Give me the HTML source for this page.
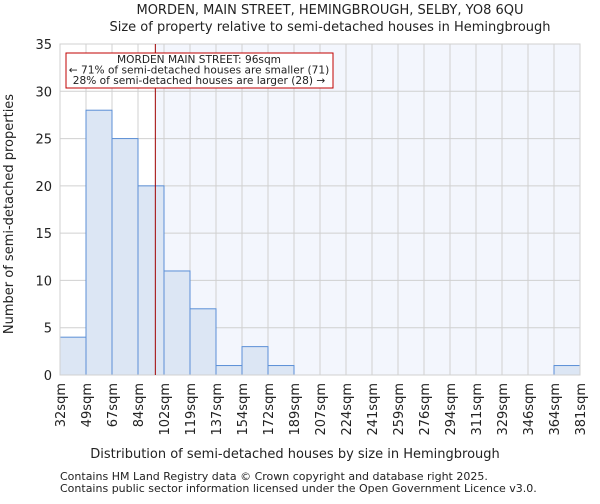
<!DOCTYPE html>
<html><head><meta charset="utf-8"><style>
body{margin:0;background:#fff;font-family:"DejaVu Sans","Liberation Sans",sans-serif;}
svg text{font-family:"DejaVu Sans","Liberation Sans",sans-serif;fill:#222;}
</style></head><body>
<svg id="chart" width="600" height="500">
<text x="330" y="14" font-size="13" text-anchor="middle">MORDEN, MAIN STREET, HEMINGBROUGH, SELBY, YO8 6QU</text>
<text x="330" y="31" font-size="13" text-anchor="middle">Size of property relative to semi-detached houses in Hemingbrough</text>
<g id="plot"></g>
<text x="295" y="458" font-size="13" text-anchor="middle">Distribution of semi-detached houses by size in Hemingbrough</text>
<text transform="translate(13,214) rotate(-90)" font-size="13" text-anchor="middle">Number of semi-detached properties</text>
<text x="60" y="480" font-size="11">Contains HM Land Registry data © Crown copyright and database right 2025.</text>
<text x="60" y="492" font-size="11">Contains public sector information licensed under the Open Government Licence v3.0.</text>
</svg>
<script>
const binLabels=["32sqm","49sqm","67sqm","84sqm","102sqm","119sqm","137sqm","154sqm","172sqm","189sqm","207sqm","224sqm","241sqm","259sqm","276sqm","294sqm","311sqm","329sqm","346sqm","364sqm","381sqm"];
const binEdges=[32,49,67,84,102,119,137,154,172,189,207,224,241,259,276,294,311,329,346,364,381];
const counts=[4,28,25,20,11,7,1,3,1,0,0,0,0,0,0,0,0,0,0,1];
const yTicks=[0,5,10,15,20,25,30,35];
const propertySize=96;
const NS="http://www.w3.org/2000/svg";
const X0=60,X1=580,Y0=375,Y1=44,YMAX=35;
const nb=counts.length,bw=(X1-X0)/nb;
function xi(i){return X0+i*bw;}
function xv(v){for(let i=0;i<binEdges.length-1;i++){if(v>=binEdges[i]&&v<=binEdges[i+1])return xi(i)+(v-binEdges[i])/(binEdges[i+1]-binEdges[i])*bw;}return X1;}
function y(v){return Y0-v/YMAX*(Y0-Y1);}
const g=document.getElementById('plot');
function mk(t,a){const e=document.createElementNS(NS,t);for(const k in a)e.setAttribute(k,a[k]);g.appendChild(e);return e;}
const px=xv(propertySize);
let r=mk('rect',{x:px,y:Y1,width:X1-px,height:Y0-Y1,fill:'#f3f6fd'});


yTicks.forEach(t=>{const l=mk('line',{x1:X0,x2:X1,y1:y(t),y2:y(t),stroke:'#d0d0d0','stroke-width':1});


const tx=mk('text',{x:X0-8,y:y(t)+5,'font-size':13,'text-anchor':'end'});tx.textContent=t;

});
binLabels.forEach((lb,i)=>{const x=xi(i);const l=mk('line',{x1:x,x2:x,y1:Y1,y2:Y0,stroke:'#d0d0d0','stroke-width':1});


const tx=mk('text',{transform:`translate(${x+5},${Y0+8}) rotate(-90)`,'font-size':13,'text-anchor':'end'});tx.textContent=lb;

});
counts.forEach((c,i)=>{if(c<=0)return;const b=mk('rect',{x:xi(i),y:y(c),width:bw,height:Y0-y(c),fill:'#dce6f4',stroke:'#5b8fd6','stroke-width':1});

});
const fr=mk('rect',{x:X0,y:Y1,width:X1-X0,height:Y0-Y1,fill:'none',stroke:'#d0d0d0'});


const ml=mk('line',{x1:px,x2:px,y1:Y1,y2:Y0,stroke:'#a00000','stroke-width':1});


const box=mk('rect',{x:66,y:53,width:267,height:35,fill:'#fff',stroke:'#c00000','stroke-width':1});


["MORDEN MAIN STREET: 96sqm","← 71% of semi-detached houses are smaller (71)","28% of semi-detached houses are larger (28) →"].forEach((s,k)=>{const t=mk('text',{x:199,y:63+k*10.5,'font-size':10.6,'text-anchor':'middle'});t.textContent=s;

});
</script>
</body></html>
